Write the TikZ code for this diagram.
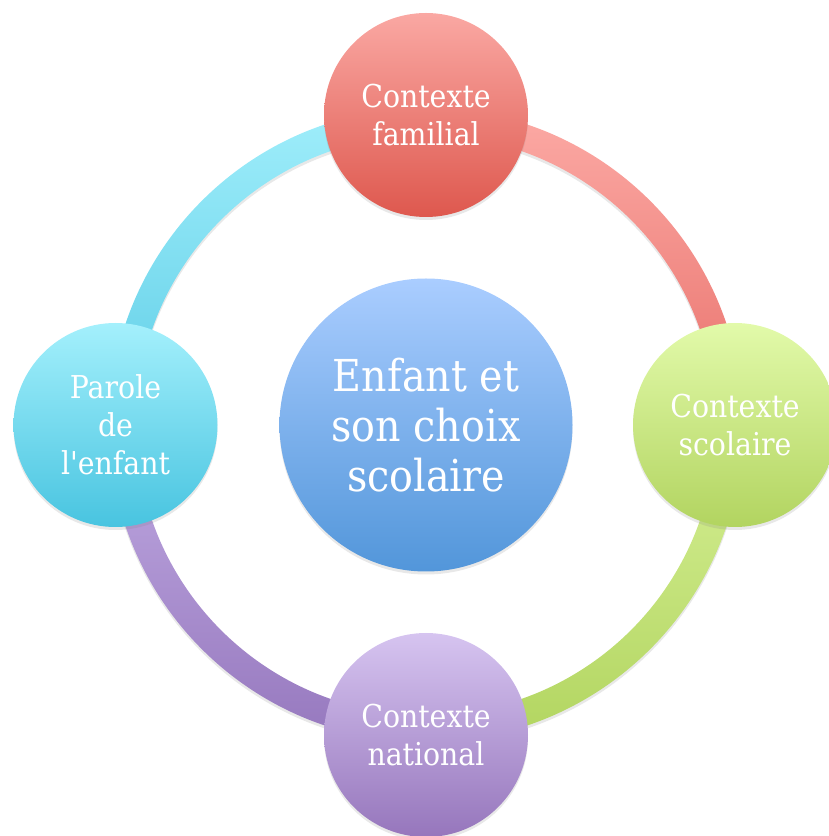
\documentclass[tikz,border=0pt]{standalone}
\usepackage{fontspec}
\setmainfont{DejaVu Serif}[FakeStretch=0.9, Ligatures=TeXOff]
\usetikzlibrary{shadows,calc}
\definecolor{redTop}{RGB}{250,168,163}
\definecolor{redBot}{RGB}{222,88,78}
\definecolor{redArcTop}{RGB}{252,170,165}
\definecolor{redArcBot}{RGB}{232,112,106}
\definecolor{grnTop}{RGB}{226,250,170}
\definecolor{grnBot}{RGB}{178,212,96}
\definecolor{grnArcTop}{RGB}{214,240,150}
\definecolor{grnArcBot}{RGB}{178,213,96}
\definecolor{purTop}{RGB}{214,196,240}
\definecolor{purBot}{RGB}{150,118,188}
\definecolor{purArcTop}{RGB}{192,170,226}
\definecolor{purArcBot}{RGB}{150,120,190}
\definecolor{cyaTop}{RGB}{164,240,252}
\definecolor{cyaBot}{RGB}{72,196,224}
\definecolor{cyaArcTop}{RGB}{160,238,251}
\definecolor{cyaArcBot}{RGB}{94,205,230}
\definecolor{bluTop}{RGB}{170,205,255}
\definecolor{bluBot}{RGB}{82,150,218}
\tikzset{
  softshadow/.style={drop shadow={opacity=0.18, shadow xshift=0pt, shadow yshift=-3pt}},
  bub/.style={circle, minimum size=204pt, inner sep=0pt, text=white, align=center,
    font=\fontsize{31.5}{38}\selectfont, softshadow},
  hub/.style={circle, minimum size=293pt, inner sep=0pt, text=white, align=center,
    font=\fontsize{44}{50}\selectfont, softshadow},
  ringarc/.style={softshadow}
}
\begin{document}
\begin{tikzpicture}[x=1pt,y=1pt]
\useasboundingbox (0,0) rectangle (829,836);
\clip (0,0) rectangle (829,836);
\node[hub, top color=bluTop, bottom color=bluBot] (cen) at (426,411) {Enfant et\\son choix\\scolaire};
% ring segments
\shade[ringarc, top color=redArcTop, bottom color=redArcBot]
  ($(cen)+(90:317pt)$) arc[start angle=90, end angle=0, radius=317pt]
  -- ($(cen)+(0:290pt)$) arc[start angle=0, end angle=90, radius=290pt] -- cycle;
\shade[ringarc, top color=grnArcTop, bottom color=grnArcBot]
  ($(cen)+(0:317pt)$) arc[start angle=0, end angle=-90, radius=317pt]
  -- ($(cen)+(-90:290pt)$) arc[start angle=-90, end angle=0, radius=290pt] -- cycle;
\shade[ringarc, top color=purArcTop, bottom color=purArcBot]
  ($(cen)+(-90:317pt)$) arc[start angle=-90, end angle=-180, radius=317pt]
  -- ($(cen)+(180:290pt)$) arc[start angle=180, end angle=270, radius=290pt] -- cycle;
\shade[ringarc, top color=cyaArcTop, bottom color=cyaArcBot]
  ($(cen)+(180:317pt)$) arc[start angle=180, end angle=90, radius=317pt]
  -- ($(cen)+(90:290pt)$) arc[start angle=90, end angle=180, radius=290pt] -- cycle;
% outer circles
\node[bub, top color=redTop, bottom color=redBot] (fam) at (426,721) {Contexte\\familial};
\node[bub, top color=grnTop, bottom color=grnBot] (sco) at (735,411) {Contexte\\scolaire};
\node[bub, top color=purTop, bottom color=purBot] (nat) at (426,101) {Contexte\\national};
\node[bub, top color=cyaTop, bottom color=cyaBot] (par) at (115.5,411) {Parole\\de\\l'enfant};
\end{tikzpicture}
\end{document}
